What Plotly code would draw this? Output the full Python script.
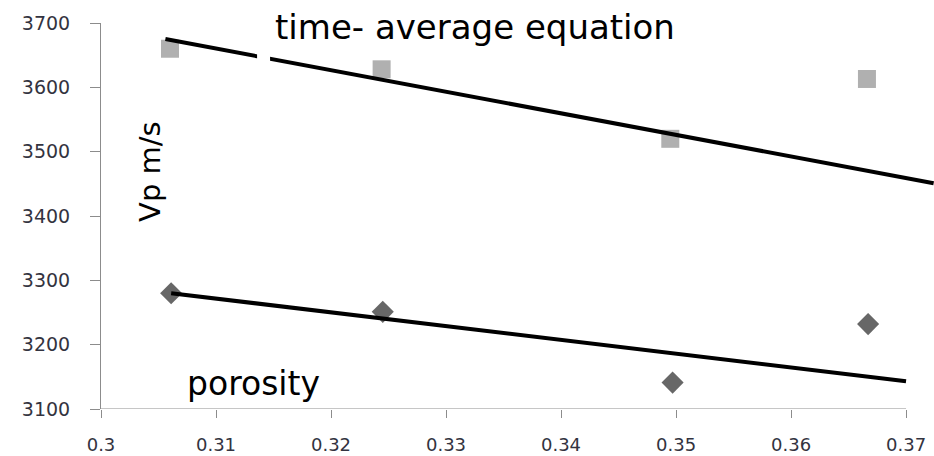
import plotly.graph_objects as go

# data
x_time = [0.3060, 0.3244, 0.3495, 0.3666]
vp_time = [3660, 3628, 3520, 3613]
x_por = [0.3061, 0.3245, 0.3497, 0.3667]
vp_por = [3280, 3251, 3141, 3232]
trend_time_x = [0.3056, 0.3724]
trend_time_y = [3675, 3451]
trend_por_x = [0.3061, 0.3700]
trend_por_y = [3280, 3143]
x_ticks = [0.3, 0.31, 0.32, 0.33, 0.34, 0.35, 0.36, 0.37]
x_tick_labels = ["0.3", "0.31", "0.32", "0.33", "0.34", "0.35", "0.36", "0.37"]
y_ticks = [3100, 3200, 3300, 3400, 3500, 3600, 3700]

FONT = "DejaVu Sans"
TICKC = "#333340"
fig = go.Figure()
fig.add_trace(go.Scatter(x=x_time, y=vp_time, mode="markers",
                         marker=dict(symbol="square", size=18, color="#B0B0B0"),
                         showlegend=False))
fig.add_trace(go.Scatter(x=x_por, y=vp_por, mode="markers",
                         marker=dict(symbol="diamond", size=17, color="#676767"),
                         showlegend=False))
fig.add_trace(go.Scatter(x=trend_time_x, y=trend_time_y, mode="lines",
                         line=dict(color="black", width=4), showlegend=False))
fig.add_trace(go.Scatter(x=trend_por_x, y=trend_por_y, mode="lines",
                         line=dict(color="black", width=4), showlegend=False))

fig.update_layout(
    width=934, height=456,
    margin=dict(l=101, r=0, t=23, b=47),
    paper_bgcolor="white", plot_bgcolor="white",
    font=dict(family=FONT, color=TICKC),
    xaxis=dict(range=[0.3, 0.37243], tickvals=x_ticks, ticktext=x_tick_labels,
               showgrid=False, zeroline=False, showline=False, automargin=False,
               ticks="outside", ticklen=8, tickcolor="#8C8C8C", tickwidth=1,
               ticklabelstandoff=11,
               tickfont=dict(size=18, family=FONT, color=TICKC)),
    yaxis=dict(range=[3100, 3700], tickvals=y_ticks, automargin=False,
               showgrid=False, zeroline=False, showline=True, linecolor="#8C8C8C",
               linewidth=1, ticks="outside", ticklen=10, tickcolor="#8C8C8C",
               ticklabelstandoff=16,
               tickfont=dict(size=19, family=FONT, color=TICKC)),
    shapes=[
        dict(type="line", xref="x", yref="y", x0=0.3, x1=0.37, y0=3100, y1=3100,
             line=dict(color="#8C8C8C", width=1), layer="above"),
        dict(type="rect", xref="x", yref="y", x0=0.31357, x1=0.31470, y0=3633, y1=3656,
             fillcolor="white", line=dict(width=0), layer="above"),
    ],
    annotations=[
        dict(text="time- average equation", x=0.33252, y=3694, xref="x", yref="y",
             showarrow=False, xanchor="center", yanchor="middle",
             font=dict(size=34, family=FONT, color="black")),
        dict(text="porosity", x=0.3133, y=3139, xref="x", yref="y",
             showarrow=False, xanchor="center", yanchor="middle",
             font=dict(size=33, family=FONT, color="black")),
        dict(text="Vp m/s", x=0.30426, y=3470, xref="x", yref="y", textangle=-90,
             showarrow=False, xanchor="center", yanchor="middle",
             font=dict(size=29, family=FONT, color="black")),
    ],
)
fig.write_html("out.html", config={"displayModeBar": False},
               post_script="document.body.style.margin='0';")
